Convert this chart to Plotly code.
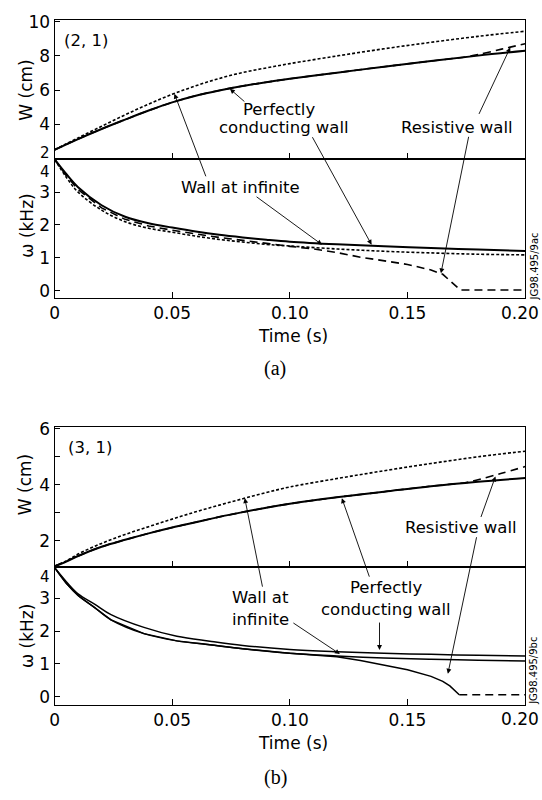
import plotly.graph_objects as go

FIG_W, FIG_H = 542, 800

# ---------------- data: panel (a), mode (2,1) ----------------
t_a_w = [0, 0.01, 0.02, 0.03, 0.04, 0.05, 0.06, 0.07, 0.08, 0.09, 0.10, 0.12, 0.14, 0.16, 0.18, 0.20]
w_a_perfect = [2.5, 3.13, 3.72, 4.27, 4.8, 5.28, 5.67, 5.98, 6.24, 6.46, 6.66, 7.02, 7.37, 7.7, 8.02, 8.3]
w_a_infinite = [2.5, 3.2, 3.88, 4.55, 5.18, 5.75, 6.25, 6.68, 7.03, 7.3, 7.55, 8.0, 8.42, 8.8, 9.15, 9.45]
t_a_res_w = [0, 0.01, 0.02, 0.03, 0.04, 0.05, 0.06, 0.07, 0.08, 0.09, 0.10, 0.12, 0.14, 0.16, 0.17, 0.175, 0.18, 0.19, 0.20]
w_a_resistive = [2.5, 3.13, 3.72, 4.27, 4.8, 5.28, 5.67, 5.98, 6.24, 6.46, 6.66, 7.02, 7.37, 7.7, 7.86, 7.95, 8.08, 8.4, 8.72]

t_a = [0, 0.005, 0.01, 0.02, 0.03, 0.04, 0.05, 0.06, 0.07, 0.08, 0.09, 0.10, 0.12, 0.14, 0.16, 0.18, 0.20]
om_a_perfect = [4.0, 3.55, 3.15, 2.6, 2.25, 2.05, 1.92, 1.8, 1.7, 1.62, 1.55, 1.49, 1.41, 1.35, 1.3, 1.25, 1.21]
om_a_infinite = [4.0, 3.45, 3.0, 2.45, 2.1, 1.9, 1.78, 1.66, 1.56, 1.48, 1.41, 1.36, 1.27, 1.2, 1.15, 1.11, 1.09]
t_a_res_om = [0, 0.005, 0.01, 0.02, 0.03, 0.04, 0.05, 0.06, 0.07, 0.08, 0.09, 0.10, 0.11, 0.12, 0.13, 0.14, 0.15, 0.16, 0.165, 0.1725, 0.20]
om_a_resistive = [4.0, 3.5, 3.08, 2.52, 2.17, 1.97, 1.84, 1.72, 1.62, 1.53, 1.43, 1.35, 1.27, 1.16, 1.02, 0.92, 0.8, 0.63, 0.5, 0.02, 0.02]

# ---------------- data: panel (b), mode (3,1) ----------------
t_b = [0, 0.005, 0.01, 0.02, 0.03, 0.04, 0.05, 0.06, 0.07, 0.08, 0.09, 0.10, 0.12, 0.14, 0.16, 0.18, 0.20]
w_b_perfect = [1.08, 1.25, 1.45, 1.78, 2.03, 2.26, 2.47, 2.66, 2.85, 3.02, 3.18, 3.32, 3.55, 3.75, 3.95, 4.11, 4.24]
w_b_infinite = [1.08, 1.27, 1.52, 1.9, 2.22, 2.5, 2.77, 3.03, 3.27, 3.5, 3.72, 3.92, 4.22, 4.5, 4.76, 5.0, 5.2]
t_b_res_w = [0, 0.01, 0.02, 0.03, 0.04, 0.05, 0.06, 0.07, 0.08, 0.09, 0.10, 0.12, 0.14, 0.16, 0.17, 0.175, 0.18, 0.19, 0.20]
w_b_resistive = [1.08, 1.45, 1.78, 2.03, 2.26, 2.47, 2.66, 2.85, 3.02, 3.18, 3.32, 3.55, 3.75, 3.95, 4.03, 4.08, 4.18, 4.41, 4.65]

t_b_om = [0, 0.005, 0.01, 0.017, 0.024, 0.038, 0.052, 0.066, 0.08, 0.10, 0.12, 0.14, 0.16, 0.18, 0.20]
om_b_perfect = [3.93, 3.5, 3.13, 2.82, 2.5, 2.11, 1.84, 1.69, 1.56, 1.44, 1.37, 1.32, 1.29, 1.26, 1.24]
om_b_infinite = [3.93, 3.45, 3.08, 2.72, 2.34, 1.92, 1.7, 1.58, 1.46, 1.32, 1.24, 1.18, 1.14, 1.11, 1.09]
t_b_res_om = [0, 0.005, 0.01, 0.017, 0.024, 0.038, 0.052, 0.066, 0.08, 0.10, 0.12, 0.13, 0.14, 0.15, 0.16, 0.165, 0.168, 0.172, 0.20]
om_b_resistive = [3.93, 3.45, 3.08, 2.72, 2.34, 1.92, 1.7, 1.58, 1.46, 1.32, 1.22, 1.1, 0.97, 0.82, 0.62, 0.47, 0.33, 0.06, 0.06]

x_tickvals = [0, 0.05, 0.10, 0.15, 0.20]
x_ticktext = ["0", "0.05", "0.10", "0.15", ""]   # last label drawn as text so it stays inside the page
w_a_tickvals = [2, 4, 6, 8, 10]
w_a_ticktext = ["", "4", "6", "8", "10"]          # "2" drawn as text (stacked with the "4" below)

# ---------------- figure ----------------
SANS = "DejaVu Sans"
fig = go.Figure()

SOLID = dict(color="black", width=2)
DOT = dict(color="black", width=1.6, dash="3px,2px")
DASH = dict(color="black", width=1.6, dash="8px,5px")


def add(x, y, line, xa, ya, shape="spline"):
    fig.add_trace(go.Scatter(x=x, y=y, mode="lines", line=dict(shape=shape, **line),
                             xaxis=xa, yaxis=ya, showlegend=False, hoverinfo="skip"))


# (a) W
add(t_a_res_w, w_a_resistive, DASH, "x", "y")
add(t_a_w, w_a_infinite, DOT, "x", "y")
add(t_a_w, w_a_perfect, SOLID, "x", "y")
# (a) omega
add(t_a_res_om, om_a_resistive, DASH, "x2", "y2", shape="linear")
add(t_a, om_a_infinite, DOT, "x2", "y2")
add(t_a, om_a_perfect, SOLID, "x2", "y2")
# (b) W
add(t_b_res_w, w_b_resistive, DASH, "x3", "y3")
add(t_b, w_b_infinite, DOT, "x3", "y3")
add(t_b, w_b_perfect, SOLID, "x3", "y3")
# (b) omega
n_solid = t_b_res_om.index(0.172) + 1
add(t_b_res_om[:n_solid], om_b_resistive[:n_solid], dict(color="black", width=1.5), "x4", "y4", shape="linear")
add(t_b_res_om[n_solid - 1:], om_b_resistive[n_solid - 1:], DASH, "x4", "y4", shape="linear")
add(t_b_om, om_b_infinite, dict(color="black", width=1.5), "x4", "y4")
add(t_b_om, om_b_perfect, dict(color="black", width=1.5), "x4", "y4")


def pyd(top_px, bot_px):
    return [1 - bot_px / FIG_H, 1 - top_px / FIG_H]


XDOM = [50 / FIG_W, 525 / FIG_W]
XRANGE = [0, 0.20001]
tickfont = dict(family=SANS, size=17, color="black")

base_x = dict(domain=XDOM, range=XRANGE, showgrid=False, zeroline=False, showline=True,
              linecolor="black", linewidth=1.2, mirror=True, ticks="inside", ticklen=6,
              tickcolor="black", tickfont=tickfont)
base_y = dict(showgrid=False, zeroline=False, showline=True, linecolor="black", linewidth=1.2,
              mirror=True, ticks="inside", ticklen=5, tickcolor="black", tickfont=tickfont)

fig.update_layout(
    width=FIG_W, height=FIG_H, margin=dict(l=0, r=0, t=0, b=0),
    paper_bgcolor="white", plot_bgcolor="white", showlegend=False,
    xaxis=dict(base_x, anchor="y", tickvals=[0.05, 0.10, 0.15], showticklabels=False),
    yaxis=dict(base_y, anchor="x", domain=pyd(12.3, 153.3), range=[1.95, 10.1],
               tickvals=w_a_tickvals, ticktext=w_a_ticktext),
    xaxis2=dict(base_x, anchor="y2", tickvals=x_tickvals, ticktext=x_ticktext),
    yaxis2=dict(base_y, anchor="x2", domain=pyd(153.3, 294), range=[-0.22, 4.0],
                tickvals=[0, 1, 2, 3]),
    xaxis3=dict(base_x, anchor="y3", tickvals=[0.05, 0.10, 0.15], showticklabels=False),
    yaxis3=dict(base_y, anchor="x3", domain=pyd(425, 566.7), range=[1.06, 6.06],
                tickvals=[2, 4, 6],
                minor=dict(tickvals=[3, 5], ticks="inside", ticklen=5, tickcolor="black")),
    xaxis4=dict(base_x, anchor="y4", tickvals=x_tickvals, ticktext=x_ticktext),
    yaxis4=dict(base_y, anchor="x4", domain=pyd(566.7, 706.7), range=[-0.25, 3.95],
                tickvals=[0, 1, 2, 3]),
)

anns = []


def text(s, x, y, size=16.5, family=SANS, angle=0, xanchor="center"):
    anns.append(dict(text=s, x=x / FIG_W, y=1 - y / FIG_H, xref="paper", yref="paper",
                     showarrow=False, xanchor=xanchor, yanchor="middle", textangle=angle,
                     font=dict(family=family, size=size, color="black")))


def arrow(head, tail):
    anns.append(dict(text="", x=head[0] / FIG_W, y=1 - head[1] / FIG_H, xref="paper", yref="paper",
                     ax=tail[0] - head[0], ay=tail[1] - head[1], axref="pixel", ayref="pixel",
                     showarrow=True, arrowhead=2, arrowsize=1.1, arrowwidth=0.9,
                     arrowcolor="black", standoff=0, startstandoff=0))


# --- panel (a) labels ---
text("(2, 1)", 82, 33)
text("W (cm)", 21, 83, size=17, angle=-90)
text("ω (kHz)", 22, 221, size=17, angle=-90)
text("2", 47, 147, size=15, xanchor="right")
text("4", 47, 166, size=15, xanchor="right")
text("0.20", 520, 309, size=17)
text("Perfectly", 277, 103)
text("conducting wall", 282, 121)
text("Resistive wall", 456, 121)
text("Wall at infinite", 238, 182)
text("Time (s)", 291, 333, size=17)
text("(a)", 273, 366, size=20, family="Liberation Serif")
text("JG98.495/9ac", 534, 262, size=10, angle=-90)
arrow((227, 82), (243, 96))
arrow((370, 240), (310, 131))
arrow((171, 87), (203, 171))
arrow((320, 240), (253, 191))
arrow((510, 40), (478, 108))
arrow((440, 269), (468, 131))

# --- panel (b) labels ---
text("(3, 1)", 86, 446)
text("W (cm)", 21, 483, size=17, angle=-90)
text("ω (kHz)", 22, 637, size=17, angle=-90)
text("4", 47, 577, size=15, xanchor="right")
text("0.20", 520, 721, size=17)
text("Resistive wall", 460, 527)
text("Perfectly", 385, 588)
text("conducting wall", 385, 610)
text("Wall at", 258, 598)
text("infinite", 258, 620)
text("Time (s)", 291, 745, size=17)
text("(b)", 273, 780, size=20, family="Liberation Serif")
text("JG98.495/9bc", 534, 672, size=10, angle=-90)
arrow((242, 497), (260, 587))
arrow((338, 655), (290, 623))
arrow((340, 497), (368, 577))
arrow((378, 651), (378, 622))
arrow((495, 475), (480, 517))
arrow((447, 675), (476, 537))

fig.update_layout(annotations=anns)
fig.write_html("out.html")
